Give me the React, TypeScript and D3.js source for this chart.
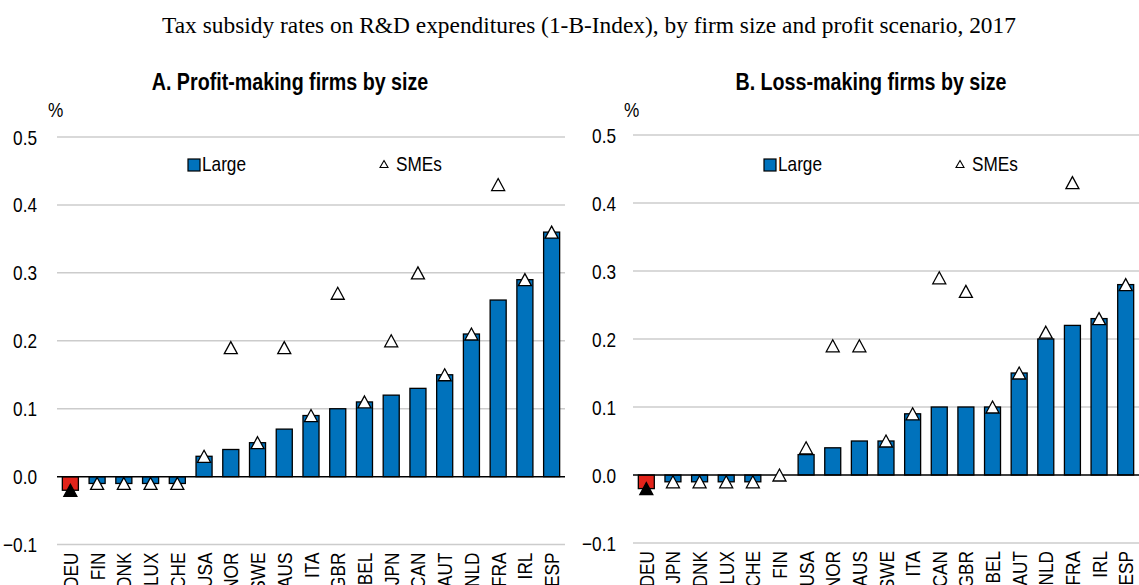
import React from "react";
import * as d3 from "d3";

// panel A: profit-making firms
const countriesA = ["DEU", "FIN", "DNK", "LUX", "CHE", "USA", "NOR", "SWE", "AUS", "ITA", "GBR", "BEL", "JPN", "CAN", "AUT", "NLD", "FRA", "IRL", "ESP"];
const largeA = [-0.02, -0.01, -0.01, -0.01, -0.01, 0.03, 0.04, 0.05, 0.07, 0.09, 0.1, 0.11, 0.12, 0.13, 0.15, 0.21, 0.26, 0.29, 0.36];
const smeA = [-0.02, -0.01, -0.01, -0.01, -0.01, 0.03, 0.19, 0.05, 0.19, 0.09, 0.27, 0.11, 0.2, 0.3, 0.15, 0.21, 0.43, 0.29, 0.36];

// panel B: loss-making firms
const countriesB = ["DEU", "JPN", "DNK", "LUX", "CHE", "FIN", "USA", "NOR", "AUS", "SWE", "ITA", "CAN", "GBR", "BEL", "AUT", "NLD", "FRA", "IRL", "ESP"];
const largeB = [-0.02, -0.01, -0.01, -0.01, -0.01, 0, 0.03, 0.04, 0.05, 0.05, 0.09, 0.1, 0.1, 0.1, 0.15, 0.2, 0.22, 0.23, 0.28];
const smeB = [-0.02, -0.01, -0.01, -0.01, -0.01, 0, 0.04, 0.19, 0.19, 0.05, 0.09, 0.29, 0.27, 0.1, 0.15, 0.21, 0.43, 0.23, 0.28];

const yTicks = [-0.1, 0, 0.1, 0.2, 0.3, 0.4, 0.5];
const highlight = "DEU";

// Arial Narrow is not installed: squeeze Liberation Sans instead
const sans = "'Liberation Sans', Arial, sans-serif";
const squeeze = 0.82;
const blue = "#0072bc";
const red = "#e2231a";

function triangle(cx, cy, w, h) {
  const p = d3.path();
  p.moveTo(cx, cy - h / 2);
  p.lineTo(cx + w / 2, cy + h / 2);
  p.lineTo(cx - w / 2, cy + h / 2);
  p.closePath();
  return p.toString();
}

function NText({ x, y, rotate = 0, size = 21, anchor = "start", bold = false, children }) {
  return (
    <text
      transform={`translate(${x},${y}) rotate(${rotate}) scale(${squeeze},1)`}
      textAnchor={anchor}
      fontFamily={sans}
      fontWeight={bold ? "bold" : "normal"}
      fontSize={size}
      fill="#000"
    >
      {children}
    </text>
  );
}

function Panel({ title, titleX, countries, large, sme, x0, x1, yTop, yBottom, labelGap }) {
  const x = d3.scaleBand().domain(countries).range([x0, x1]).paddingInner(0.4).paddingOuter(0.2);
  const y = d3.scaleLinear().domain([-0.1, 0.5]).range([yBottom, yTop]);
  const bw = x.bandwidth();

  return (
    <g>
      <NText x={titleX} y={90} anchor="middle" size={24} bold>{title}</NText>
      <NText x={x0 - 9} y={117}>%</NText>
      {yTicks.map((t) => (
        <g key={t}>
          {t !== 0 && <line x1={x0} x2={x1} y1={y(t)} y2={y(t)} stroke="#cccccc" strokeWidth={1.5} />}
          <NText x={x0 - labelGap} y={y(t) + 7.5} anchor="end">{d3.format(".1f")(t)}</NText>
        </g>
      ))}
      {countries.map((c, i) => (
        <rect
          key={c}
          x={x(c)}
          y={y(Math.max(0, large[i]))}
          width={bw}
          height={Math.abs(y(large[i]) - y(0))}
          fill={c === highlight ? red : blue}
          stroke="#000"
          strokeWidth={1.3}
        />
      ))}
      <line x1={x0} x2={x1} y1={y(0)} y2={y(0)} stroke="#000" strokeWidth={1.5} />
      {countries.map((c, i) => (
        <path
          key={c}
          d={triangle(x(c) + bw / 2, y(sme[i]), 13, 12)}
          fill={c === highlight ? "#000" : "#fff"}
          stroke="#000"
          strokeWidth={1.3}
        />
      ))}
      {countries.map((c) => (
        <NText key={c} x={x(c) + bw / 2 + 7.5} y={yBottom + 8} rotate={-90} anchor="end">{c}</NText>
      ))}
      <rect x={x0 + 131} y={159} width={12} height={12} fill={blue} stroke="#000" strokeWidth={1.2} />
      <NText x={x0 + 145} y={171}>Large</NText>
      <path d={triangle(x0 + 327, 164, 8, 7)} fill="#fff" stroke="#000" strokeWidth={1.1} />
      <NText x={x0 + 339} y={171}>SMEs</NText>
    </g>
  );
}

export default function App() {
  return (
    <svg width={1139} height={585} style={{ position: "absolute", left: 0, top: 0, background: "#fff" }}>
      <text x={589} y={33} textAnchor="middle" fontFamily="'Liberation Serif', 'Times New Roman', serif" fontSize={23.4} fill="#000">
        Tax subsidy rates on R&amp;D expenditures (1-B-Index), by firm size and profit scenario, 2017
      </text>
      <Panel
        title="A. Profit-making firms by size"
        titleX={290}
        countries={countriesA}
        large={largeA}
        sme={smeA}
        x0={57}
        x1={565}
        yTop={137}
        yBottom={544.6}
        labelGap={20}
      />
      <Panel
        title="B. Loss-making firms by size"
        titleX={871}
        countries={countriesB}
        large={largeB}
        sme={smeB}
        x0={633}
        x1={1139}
        yTop={135}
        yBottom={543}
        labelGap={17}
      />
    </svg>
  );
}
